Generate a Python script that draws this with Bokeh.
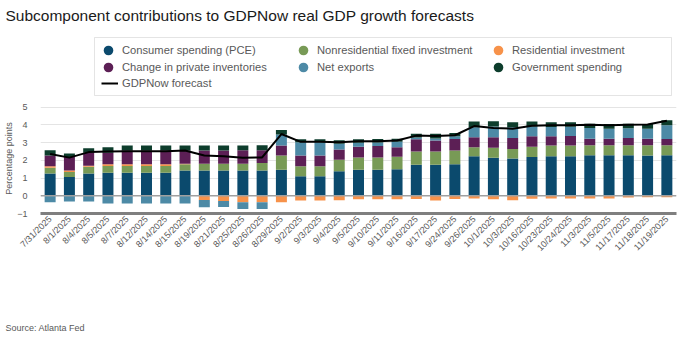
import numpy as np
from math import pi
from bokeh.plotting import figure
from bokeh.layouts import column
from bokeh.models import (ColumnDataSource, FactorRange, Range1d, FixedTicker,
                          Legend, LegendItem, Span, BoxAnnotation)
from bokeh.embed import file_html
from bokeh.resources import INLINE

dates = ["7/31/2025", "8/1/2025", "8/4/2025", "8/5/2025", "8/7/2025", "8/12/2025",
         "8/14/2025", "8/15/2025", "8/19/2025", "8/21/2025", "8/25/2025", "8/26/2025",
         "8/29/2025", "9/2/2025", "9/3/2025", "9/4/2025", "9/5/2025", "9/10/2025",
         "9/11/2025", "9/16/2025", "9/17/2025", "9/24/2025", "9/26/2025", "10/1/2025",
         "10/3/2025", "10/16/2025", "10/23/2025", "10/24/2025", "11/3/2025", "11/5/2025",
         "11/17/2025", "11/18/2025", "11/19/2025"]

pce = [1.25, 1.06, 1.25, 1.30, 1.30, 1.30, 1.30, 1.43, 1.43, 1.43, 1.43, 1.43,
       1.47, 1.10, 1.10, 1.38, 1.47, 1.47, 1.49, 1.75, 1.75, 1.77, 2.23, 2.14,
       2.10, 2.18, 2.23, 2.23, 2.29, 2.29, 2.29, 2.27, 2.29]
nonres = [0.33, 0.28, 0.39, 0.38, 0.38, 0.38, 0.38, 0.34, 0.38, 0.38, 0.37, 0.41,
          0.80, 0.56, 0.56, 0.65, 0.69, 0.69, 0.71, 0.74, 0.74, 0.78, 0.51, 0.56,
          0.54, 0.58, 0.60, 0.60, 0.56, 0.56, 0.56, 0.58, 0.56]
resid = [0.08, 0.08, 0.05, 0.09, 0.09, 0.09, 0.09, 0.03, -0.24, -0.30, -0.37, -0.37,
         -0.37, -0.27, -0.27, -0.25, -0.20, -0.20, -0.20, -0.18, -0.27, -0.18, -0.15, -0.20,
         -0.25, -0.17, -0.15, -0.15, -0.15, -0.15, -0.10, -0.08, -0.08]
inv = [0.61, 0.76, 0.73, 0.65, 0.78, 0.78, 0.78, 0.75, 0.74, 0.74, 0.77, 0.72,
       0.56, 0.61, 0.61, 0.58, 0.60, 0.64, 0.54, 0.69, 0.62, 0.65, 0.56, 0.60,
       0.61, 0.59, 0.52, 0.54, 0.37, 0.37, 0.41, 0.37, 0.35]
netex = [-0.37, -0.32, -0.32, -0.43, -0.43, -0.43, -0.43, -0.43, -0.41, -0.33, -0.37, -0.37,
         0.62, 0.75, 0.75, 0.32, 0.23, 0.20, 0.30, 0.10, 0.12, 0.15, 0.56, 0.60,
         0.61, 0.55, 0.52, 0.52, 0.60, 0.56, 0.54, 0.56, 0.77]
gov = [0.30, 0.20, 0.26, 0.32, 0.28, 0.28, 0.28, 0.28, 0.28, 0.28, 0.26, 0.28,
       0.25, 0.17, 0.17, 0.20, 0.20, 0.20, 0.18, 0.22, 0.26, 0.19, 0.33, 0.30,
       0.28, 0.28, 0.28, 0.26, 0.24, 0.26, 0.26, 0.26, 0.28]
gdpnow = [2.35, 2.15, 2.46, 2.50, 2.51, 2.51, 2.51, 2.55, 2.27, 2.23, 2.14, 2.16,
          3.48, 3.04, 3.04, 3.02, 3.07, 3.07, 3.11, 3.39, 3.37, 3.41, 3.93, 3.82,
          3.78, 3.95, 3.97, 3.97, 4.00, 3.98, 4.00, 4.02, 4.23]

names = ["Consumer spending (PCE)", "Nonresidential fixed investment", "Residential investment",
         "Change in private inventories", "Net exports", "Government spending"]
colors = ["#0b4a6d", "#789a56", "#f7924a", "#5c1f55", "#4d8aa6", "#0d3d2c"]
series = [pce, nonres, resid, inv, netex, gov]
line_name = "GDPNow forecast"
title_text = "Subcomponent contributions to GDPNow real GDP growth forecasts"
source_text = "Source: Atlanta Fed"

FONT = "Liberation Sans"
GREY = "#595959"
W = 680
LB, RB = 40, 4   # left / right borders shared by all stacked figures
HEAD = 100

# ---------- data source ----------
data = {"date": dates, "gdp": gdpnow}
pos_keys, neg_keys = [], []
for i, s in enumerate(series):
    arr = np.array(s, dtype=float)
    data[f"p{i}"] = np.clip(arr, 0, None)
    data[f"n{i}"] = np.clip(arr, None, 0)
    pos_keys.append(f"p{i}")
    neg_keys.append(f"n{i}")
src = ColumnDataSource(data)


def blank(h, title, top_border):
    f = figure(width=W, height=h, x_range=Range1d(0, 1), y_range=Range1d(0, 1),
               output_backend="svg", toolbar_location=None, title=title,
               x_axis_location=None, y_axis_location=None,
               min_border_left=LB, min_border_right=RB,
               min_border_top=top_border, min_border_bottom=0)
    f.outline_line_color = None
    f.grid.visible = False
    f.title.align = "left"
    f.title.offset = 5 - LB
    f.title.text_font = FONT
    f.title.text_font_style = "normal"
    return f


# ---------- header: title + legend ----------
top = blank(HEAD, title_text, 26)
top.title.text_font_size = "15.5px"
top.title.text_color = "#1a1a1a"
top.title.standoff = 8

top.add_layout(BoxAnnotation(left=94 - LB, right=671 - LB, bottom=HEAD - 95, top=HEAD - 37,
                             left_units="screen", right_units="screen",
                             bottom_units="screen", top_units="screen",
                             fill_alpha=0, line_color="#a6a6a6", line_width=1,
                             level="underlay"))

rends = []
for c in colors:
    rends.append(top.scatter(x="gdp", y="gdp", source=src, marker="circle", size=10,
                             fill_color=c, line_color=None, visible=False))
rline = top.line(x="gdp", y="gdp", source=src, line_color="black", line_width=2, visible=False)

col_x = [108, 303, 498]          # marker centres of the three legend columns
row_y = [50, 67, 83]             # row centres
entries = [(names[0], rends[0], 0, 0), (names[1], rends[1], 1, 0), (names[2], rends[2], 2, 0),
           (names[3], rends[3], 0, 1), (names[4], rends[4], 1, 1), (names[5], rends[5], 2, 1)]


def add_entry(label, rend, gx, gy, gw, gh, standoff):
    lg = Legend(items=[LegendItem(label=label, renderers=[rend])],
                orientation="vertical",
                location=(gx - LB, HEAD - (gy + gh / 2)),
                label_text_font=FONT, label_text_font_size="11.2px", label_text_color=GREY,
                glyph_width=gw, glyph_height=gh, label_height=14, label_standoff=standoff,
                spacing=0, padding=0, margin=0,
                border_line_color=None, background_fill_alpha=0,
                inactive_fill_alpha=0)
    top.add_layout(lg, "center")


for label, rend, ci, ri in entries:
    add_entry(label, rend, col_x[ci] - 12, row_y[ri], 24, 24, 2)
add_entry(line_name, rline, 101, row_y[2], 17, 24, 4)

# ---------- main chart ----------
p = figure(width=W, height=200, x_range=FactorRange(factors=dates, range_padding=0),
           y_range=Range1d(-1, 5.2), output_backend="svg", toolbar_location=None,
           min_border_left=LB, min_border_right=RB, min_border_top=3, min_border_bottom=87)
p.outline_line_color = None

p.vbar_stack(pos_keys, x="date", width=0.57, fill_color=colors, line_color=None, source=src)
p.vbar_stack(neg_keys, x="date", width=0.57, fill_color=colors, line_color=None, source=src)

p.add_layout(Span(location=0, dimension="width", line_color="#a0a0a0", line_width=1.5))
p.line("date", "gdp", source=src, line_color="black", line_width=2)

ticks = [-1, 0, 1, 2, 3, 4, 5]
p.ygrid.ticker = FixedTicker(ticks=ticks)
p.ygrid.grid_line_color = "#e4e4e4"
p.xgrid.grid_line_color = None

ya = p.yaxis[0]
ya.ticker = FixedTicker(ticks=ticks)
ya.axis_line_color = None
ya.major_tick_line_color = None
ya.minor_tick_line_color = None
ya.major_tick_out = 0
ya.major_tick_in = 0
ya.minor_tick_out = 0
ya.minor_tick_in = 0
ya.major_label_text_font = FONT
ya.major_label_text_font_size = "9px"
ya.major_label_text_color = GREY
ya.major_label_standoff = 13
ya.axis_label = "Percentage points"
ya.axis_label_text_font = FONT
ya.axis_label_text_font_size = "9px"
ya.axis_label_text_font_style = "normal"
ya.axis_label_text_color = GREY
ya.axis_label_standoff = 0

xa = p.xaxis[0]
xa.major_label_orientation = pi / 4
xa.major_label_text_font = FONT
xa.major_label_text_font_size = "9px"
xa.major_label_text_color = GREY
xa.major_label_standoff = 4
xa.axis_line_color = "#7f7f7f"
xa.axis_line_width = 3
xa.major_tick_line_color = None
xa.minor_tick_line_color = None
xa.major_tick_out = 0
xa.major_tick_in = 0

# ---------- footer ----------
foot = blank(38, source_text, 33)
foot.title.text_font_size = "9px"
foot.title.text_color = GREY
foot.title.standoff = 2

layout = column(top, p, foot, spacing=0)
open("out.html", "w").write(file_html(layout, INLINE))
